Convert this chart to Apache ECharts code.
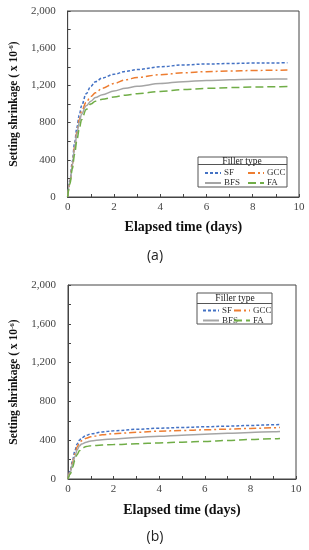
<!DOCTYPE html>
<html><head><meta charset="utf-8">
<script src="https://cdn.jsdelivr.net/npm/echarts@6/dist/echarts.min.js"></script>
<style>html,body{margin:0;padding:0;background:#fff}#c{width:309px;height:550px}</style>
</head><body><div id="c"></div>
<script>
// ---- Data (a) ----
const timeA = [0, 0.1, 0.2, 0.3, 0.4, 0.5, 0.6, 0.8, 1.0, 1.2, 1.5, 2, 2.5, 3, 4, 5, 6, 7, 8, 9, 9.5];
const sfA   = [0, 180, 380, 580, 750, 880, 980, 1110, 1190, 1240, 1280, 1320, 1350, 1370, 1400, 1420, 1430, 1435, 1440, 1442, 1443];
const gccA  = [0, 160, 350, 540, 700, 830, 920, 1020, 1080, 1120, 1170, 1220, 1260, 1285, 1315, 1335, 1348, 1355, 1360, 1364, 1365];
const bfsA  = [0, 160, 340, 520, 680, 800, 890, 980, 1030, 1070, 1100, 1140, 1170, 1190, 1220, 1240, 1252, 1260, 1265, 1268, 1270];
const faA   = [0, 140, 300, 460, 610, 730, 830, 940, 1000, 1030, 1050, 1075, 1095, 1110, 1135, 1155, 1168, 1176, 1182, 1186, 1188];
// ---- Data (b) ----
const timeB = [0, 0.1, 0.2, 0.3, 0.4, 0.5, 0.6, 0.8, 1.0, 1.5, 2, 3, 4, 5, 6, 7, 8, 9, 9.3];
const sfB   = [0, 90, 190, 290, 360, 400, 425, 450, 465, 485, 497, 512, 524, 531, 538, 545, 552, 559, 562];
const gccB  = [0, 80, 170, 260, 330, 370, 395, 420, 435, 455, 467, 481, 493, 500, 507, 514, 521, 528, 531];
const bfsB  = [0, 70, 150, 230, 300, 340, 360, 380, 392, 405, 413, 428, 441, 452, 462, 471, 480, 487, 490];
const faB   = [0, 50, 120, 190, 250, 290, 315, 335, 343, 350, 355, 363, 372, 380, 387, 397, 407, 415, 418];
// ---- Labels ----
const seriesNames = ['SF', 'GCC', 'BFS', 'FA'];
const xTitle = 'Elapsed time (days)';
const legendTitle = 'Filler type';
const panelLabels = ['(a)', '(b)'];

const SERIF = 'Liberation Serif, Times New Roman, serif';
const styles = {
  SF:  {color: '#4472C4', type: [3, 2]},
  GCC: {color: '#ED7D31', type: [7, 3, 2, 3]},
  BFS: {color: '#A5A5A5', type: 'solid'},
  FA:  {color: '#70AD47', type: [8, 4]}
};
function pairs(t, v) { return t.map((x, i) => [x, v[i]]); }
function fmtNum(v) { return v.toString().replace(/\B(?=(\d{3})+(?!\d))/g, ','); }

const grids = [
  {left: 62, top: 11, width: 237, height: 186},
  {left: 68, top: 285, width: 228, height: 194}
];
function xAx(i) {
  return {
    type: 'value', gridIndex: i, min: 0, max: 10, interval: 1,
    name: xTitle, nameLocation: 'middle', nameGap: i === 0 ? 23 : 24,
    nameTextStyle: {fontFamily: SERIF, fontWeight: 'bold', fontSize: 14, color: '#111'},
    axisLine: {lineStyle: {color: '#444', width: 1}},
    axisTick: {inside: true, length: 3, lineStyle: {color: '#444'}},
    axisLabel: {fontFamily: SERIF, fontSize: 11, color: '#444', margin: 5,
      formatter: v => (v % 2 === 0 ? String(v) : '')},
    splitLine: {show: false}
  };
}
function yAx(i) {
  return {
    type: 'value', gridIndex: i, min: 0, max: 2000, interval: 200,
    name: 'Setting shrinkage ( x 10{sup|-6})', nameLocation: 'middle', nameRotate: 90,
    nameGap: i === 0 ? 43 : 43,
    nameTextStyle: {fontFamily: SERIF, fontWeight: 'bold', fontSize: 11.5, color: '#111',
      rich: {sup: {fontFamily: SERIF, fontWeight: 'bold', fontSize: 7, color: '#111', verticalAlign: 'top', padding: [0, 0, 5, 0]}}},
    axisLine: {show: true, lineStyle: {color: '#444', width: 1}},
    axisTick: {show: true, inside: true, length: 3, lineStyle: {color: '#444'}},
    axisLabel: {fontFamily: SERIF, fontSize: 11, color: '#444', margin: 12,
      formatter: v => (v % 400 === 0 ? fmtNum(v) : '')},
    splitLine: {show: false}
  };
}
const dataA = {SF: sfA, GCC: gccA, BFS: bfsA, FA: faA};
const dataB = {SF: sfB, GCC: gccB, BFS: bfsB, FA: faB};
const series = [];
[[timeA, dataA, 0], [timeB, dataB, 1]].forEach(([t, d, gi]) => {
  seriesNames.forEach(n => {
    series.push({
      name: n, type: 'line', xAxisIndex: gi, yAxisIndex: gi,
      data: pairs(t, d[n]), symbol: 'none', showSymbol: false, smooth: 0.35, smoothMonotone: 'x',
      lineStyle: {color: styles[n].color, type: styles[n].type, width: 1.5},
      itemStyle: {color: styles[n].color},
      z: 3
    });
  });
});
function legend(left, top, names) {
  return {
    left: left, top: top, orient: 'vertical', data: names, selectedMode: false,
    itemWidth: 16, itemHeight: 8, itemGap: 1, padding: 0, z: 10,
    itemStyle: {opacity: 0},
    textStyle: {fontFamily: SERIF, fontSize: 9, color: '#333', padding: [0, 0, 0, -2], lineHeight: 9}
  };
}
const boxes = [
  {x: 198, y: 157, w: 89, h: 30, tx: 242, ty: 161, ly: 164.5},
  {x: 197, y: 293, w: 75, h: 31, tx: 235, ty: 298.5, ly: 303.5}
];
const graphic = [];
boxes.forEach(b => {
  graphic.push({type: 'rect', shape: {x: b.x, y: b.y, width: b.w, height: b.h},
    style: {fill: '#fff', stroke: '#555', lineWidth: 1}, z: 5});
  graphic.push({type: 'line', shape: {x1: b.x, y1: b.ly, x2: b.x + b.w, y2: b.ly},
    style: {stroke: '#555', lineWidth: 1}, z: 6});
  graphic.push({type: 'text', x: b.tx, y: b.ty, z: 6,
    style: {text: legendTitle, fontFamily: SERIF, fontSize: 9.5, fill: '#222', align: 'center', verticalAlign: 'middle'}});
});
graphic.push({type: 'text', x: 155, y: 256, style: {text: panelLabels[0], fontFamily: 'Open Sans, Noto Sans, sans-serif', fontSize: 14, fill: '#222', align: 'center', verticalAlign: 'middle'}});
graphic.push({type: 'text', x: 155, y: 537, style: {text: panelLabels[1], fontFamily: 'Open Sans, Noto Sans, sans-serif', fontSize: 14, fill: '#222', align: 'center', verticalAlign: 'middle'}});

const option = {
  animation: false,
  backgroundColor: '#fff',
  grid: grids.map(g => Object.assign({show: true, borderColor: '#444', borderWidth: 1, backgroundColor: 'transparent'}, g)),
  xAxis: [xAx(0), xAx(1)],
  yAxis: [yAx(0), yAx(1)],
  legend: [
    legend(204, 168.5, ['SF', 'BFS']),
    legend(247, 168.5, ['GCC', 'FA']),
    legend(202, 306, ['SF', 'BFS']),
    legend(233, 306, ['GCC', 'FA'])
  ],
  graphic: graphic,
  series: series
};
const chart = echarts.init(document.getElementById('c'), null, {renderer: 'canvas'});
chart.setOption(option);
</script></body></html>
